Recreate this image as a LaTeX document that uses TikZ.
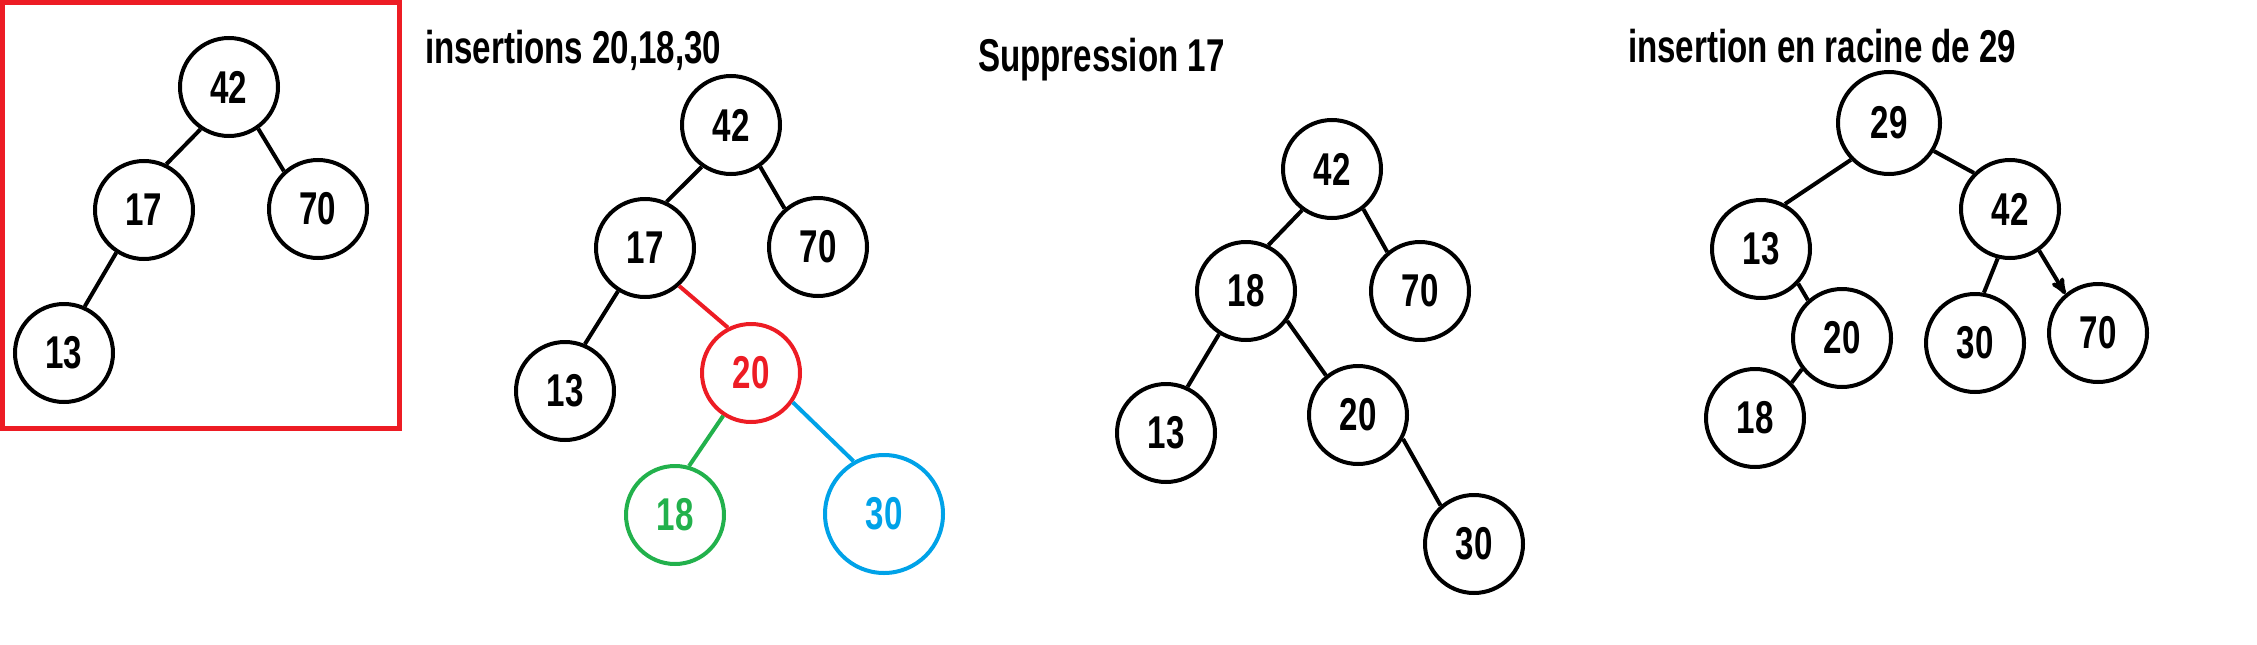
\documentclass[tikz,border=0pt]{standalone}
\usepackage{fontspec}
\setmainfont{Liberation Sans}[FakeStretch=0.72]
\usetikzlibrary{arrows}

\definecolor{paintred}{RGB}{237,28,36}
\definecolor{paintgreen}{RGB}{34,177,76}
\definecolor{paintblue}{RGB}{0,162,232}

\begin{document}
\begin{tikzpicture}[x=1pt,y=-1pt,
    line width=4pt,
    >=stealth',
    key/.style = {
      draw,
      circle,
      inner sep = 0pt,
      minimum size = 98pt,
      font = \fontsize{46}{46}\selectfont\bfseries
    },
    title/.style = {
      anchor = base west,
      inner sep = 0pt,
      font = \fontsize{46}{46}\selectfont\bfseries
    }
  ]
  \useasboundingbox (0,0) rectangle (2257,645);

  % starting tree
  \draw[paintred,line width=5pt] (2.5,2.5) rectangle (399.5,428.5);

  \node[key] (a42) at (229,87)  {42};
  \node[key] (a17) at (144,210) {17};
  \node[key] (a70) at (318,209) {70};
  \node[key] (a13) at (64,353)  {13};

  \draw (a42.236) -- (a17.64);
  \draw (a42.305) -- (a70.132);
  \draw (a17.237) -- (a13.66);


  % insertions
  \node[title] (ta) at (423,63) {insertions 20,18,30};

  \node[key] (b42) at (731,125) {42};
  \node[key] (b17) at (645,248) {17};
  \node[key] (b70) at (818,247) {70};
  \node[key] (b13) at (565,391) {13};
  \node[key,paintred]   (b20) at (751,373) {20};
  \node[key,paintgreen] (b18) at (675,515) {18};
  \node[key,paintblue,minimum size=118pt] (b30) at (884,514) {30};

  \draw (b42.235) -- (b17.65);
  \draw (b42.305) -- (b70.131);
  \draw (b17.238) -- (b13.67);
  \draw[paintred]   (b17.312) -- (b20.117);
  \draw[paintgreen] (b20.237) -- (b18.74);
  \draw[paintblue]  (b20.325) -- (b30.120);


  % suppression
  \node[title] (tb) at (976,71) {Suppression 17};

  \node[key] (c42) at (1332,169) {42};
  \node[key] (c18) at (1246,291) {18};
  \node[key] (c70) at (1420,291) {70};
  \node[key] (c13) at (1166,433) {13};
  \node[key] (c20) at (1358,415) {20};
  \node[key] (c30) at (1474,544) {30};

  \draw (c42.234) -- (c18.64);
  \draw (c42.308) -- (c70.130);
  \draw (c18.238) -- (c13.65);
  \draw (c18.324) -- (c20.129);
  \draw (c20.332) -- (c30.131);


  % root insertion
  \node[title] (tc) at (1626,62) {insertion en racine de 29};

  \node[key,minimum size=102pt] (d29) at (1889,123) {29};
  \node[key] (d13) at (1761,249) {13};
  \node[key] (d42) at (2010,209) {42};
  \node[key] (d20) at (1842,338) {20};
  \node[key] (d30) at (1975,343) {30};
  \node[key] (d70) at (2098,333) {70};
  \node[key] (d18) at (1755,418) {18};

  \draw (d29.224) -- (d13.62);
  \draw (d29.328) -- (d42.135);
  \draw (d13.317) -- (d20.132);
  \draw (d20.218) -- (d18.44);
  \draw (d42.256) -- (d30.80);
  \draw[->] (d42.305) -- (d70.130);
\end{tikzpicture}
\end{document}
